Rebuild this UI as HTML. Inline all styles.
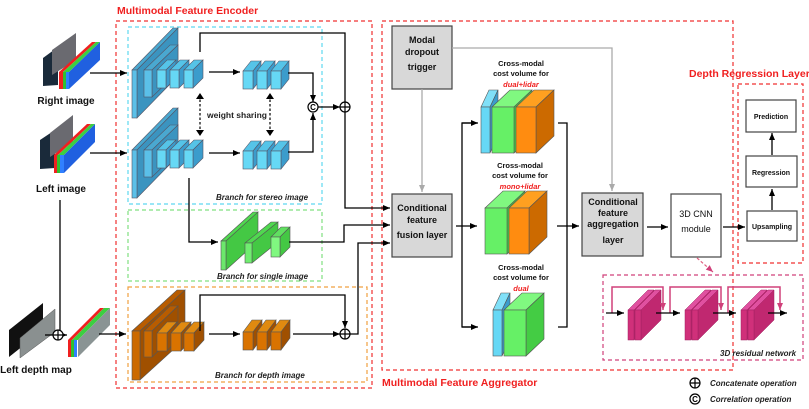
<!DOCTYPE html>
<html><head><meta charset="utf-8"><style>
html,body{margin:0;padding:0;background:#fff}
svg{display:block}
text{font-family:"Liberation Sans",Arial,sans-serif}
</style></head><body>
<svg width="809" height="409" viewBox="0 0 809 409" xmlns="http://www.w3.org/2000/svg" xmlns:xlink="http://www.w3.org/1999/xlink">
<defs>
<marker id="a" markerWidth="8" markerHeight="8" refX="7" refY="4" orient="auto" markerUnits="userSpaceOnUse"><path d="M0,1 L7,4 L0,7 z" fill="#000"/></marker>
<marker id="g" markerWidth="8" markerHeight="8" refX="7" refY="4" orient="auto" markerUnits="userSpaceOnUse"><path d="M0,1 L7,4 L0,7 z" fill="#aaa"/></marker>
<marker id="p" markerWidth="8" markerHeight="8" refX="7" refY="4" orient="auto" markerUnits="userSpaceOnUse"><path d="M0,1 L7,4 L0,7 z" fill="#d0407a"/></marker>
<g id="bA" stroke="#556" stroke-width="0.6"><polygon points="0,0 41,-42 46,-42 5,0" fill="#4aa8d0"/><polygon points="5,0 46,-42 46,6 5,48" fill="#3b94c0"/><rect width="5" height="48" fill="#5bc0e8"/></g>
<g id="bB" stroke="#556" stroke-width="0.6"><polygon points="0,0 26,-25 34,-25 8,0" fill="#4aa8d0"/><polygon points="8,0 34,-25 34,2 8,27" fill="#3b94c0"/><rect width="8" height="27" fill="#5bc0e8"/></g>
<g id="bC" stroke="#556" stroke-width="0.6"><polygon points="0,0 10,-10 19,-10 9,0" fill="#55c4e8"/><polygon points="9,0 19,-10 19,8 9,18" fill="#3b9ccc"/><rect width="9" height="18" fill="#66d8f5"/></g>
<g id="bC2" stroke="#556" stroke-width="0.6"><polygon points="0,0 8,-10 18,-10 10,0" fill="#55c4e8"/><polygon points="10,0 18,-10 18,8 10,18" fill="#3b9ccc"/><rect width="10" height="18" fill="#66d8f5"/></g>
<g id="oA" stroke="#555" stroke-width="0.6"><polygon points="0,0 45,-41 53,-41 8,0" fill="#b85c00"/><polygon points="8,0 53,-41 53,8 8,49" fill="#a05000"/><rect width="8" height="49" fill="#cc6a00"/></g>
<g id="oB" stroke="#555" stroke-width="0.6"><polygon points="0,0 26,-25 34,-25 8,0" fill="#b85c00"/><polygon points="8,0 34,-25 34,1 8,26" fill="#a05000"/><rect width="8" height="26" fill="#cc6a00"/></g>
<g id="oC" stroke="#555" stroke-width="0.6"><polygon points="0,0 10,-11 20,-11 10,0" fill="#e08a10"/><polygon points="10,0 20,-11 20,7 10,18" fill="#a05000"/><rect width="10" height="18" fill="#d97300"/></g>
<g id="oC2" stroke="#555" stroke-width="0.6"><polygon points="0,0 9,-12 19,-12 10,0" fill="#e08a10"/><polygon points="10,0 19,-12 19,6 10,18" fill="#a05000"/><rect width="10" height="18" fill="#d97300"/></g>
<g id="gA" stroke="#555" stroke-width="0.6"><polygon points="0,0 32,-29 37,-29 5,0" fill="#50d850"/><polygon points="5,0 37,-29 37,0 5,29" fill="#44c844"/><rect width="5" height="29" fill="#6ce86c"/></g>
<g id="gB" stroke="#555" stroke-width="0.6"><polygon points="0,0 26,-21 33,-21 7,0" fill="#50d850"/><polygon points="7,0 33,-21 33,-1 7,20" fill="#44c844"/><rect width="7" height="20" fill="#70ee70"/></g>
<g id="gC" stroke="#555" stroke-width="0.6"><polygon points="0,0 10,-10 19,-10 9,0" fill="#60e060"/><polygon points="9,0 19,-10 19,10 9,20" fill="#44c844"/><rect width="9" height="20" fill="#80f880"/></g>
<g id="cO" stroke="#555" stroke-width="0.6"><polygon points="0,0 18,-17 38,-17 20,0" fill="#ffa020"/><polygon points="20,0 38,-17 38,29 20,46" fill="#cc6a00"/><rect width="20" height="46" fill="#ff8c10"/></g>
<g id="cG" stroke="#555" stroke-width="0.6"><polygon points="0,0 18,-17 40,-17 22,0" fill="#80f880"/><polygon points="22,0 40,-17 40,29 22,46" fill="#44cc44"/><rect width="22" height="46" fill="#66f066"/></g>
<g id="cB" stroke="#555" stroke-width="0.6"><polygon points="0,0 8,-17 17,-17 9,0" fill="#80e0f8"/><polygon points="9,0 17,-17 17,29 9,46" fill="#3b9ccc"/><rect width="9" height="46" fill="#66d8f5"/></g>
<g id="mA" stroke="#a02060" stroke-width="0.5"><polygon points="0,0 20,-20 26,-20 6,0" fill="#e050a0"/><polygon points="6,0 26,-20 26,10 6,30" fill="#c02870"/><rect width="6" height="30" fill="#d0307a"/></g>
</defs>
<g fill="none" stroke-dasharray="4,3" stroke-width="1.2">
<rect x="116" y="21" width="256" height="367" stroke="#f03030"/>
<rect x="128" y="27" width="194" height="177" stroke="#5dd8f0"/>
<rect x="128" y="210" width="194" height="71" stroke="#80e080"/>
<rect x="128" y="287" width="239" height="95" stroke="#f0a040"/>
<rect x="382" y="21" width="351" height="349" stroke="#f03030"/>
<rect x="738" y="84" width="65" height="179" stroke="#f03030"/>
<rect x="603" y="275" width="200" height="85" stroke="#d0407a"/>
</g>
<g font-weight="bold" fill="#f02020" font-size="10.5">
<text x="117" y="14">Multimodal Feature Encoder</text>
<text x="382" y="386">Multimodal Feature Aggregator</text>
<text x="689" y="77">Depth Regression Layer</text>
</g>
<g>
<polygon points="43,58 58,47 58,85 43,86" fill="#1a2a3a"/>
<polygon points="52,50 76,33 76,60 52,75" fill="#6a6a70"/>
<polygon points="59,72 92,42 96,42 63,72" fill="#f02020"/>
<rect x="59" y="72" width="4" height="17" fill="#f02020"/>
<rect x="63" y="72" width="3" height="17" fill="#30c030"/>
<rect x="66" y="72" width="3" height="17" fill="#3080ff"/>
<polygon points="63,72 96,42 100,42 69,72" fill="#3cd040"/>
<polygon points="69,72 100,42 100,60 69,89" fill="#2060e0"/>
<polygon points="40,140 55,130 55,168 40,169" fill="#1a2a3a"/>
<polygon points="50,133 73,115 73,142 50,157" fill="#6a6a70"/>
<polygon points="54,155 87,124 91,124 58,155" fill="#f02020"/>
<rect x="54" y="155" width="3" height="18" fill="#f02020"/>
<rect x="57" y="155" width="3" height="18" fill="#30c030"/>
<rect x="60" y="155" width="4" height="18" fill="#3080ff"/>
<polygon points="58,155 91,124 95,124 64,155" fill="#3cd040"/>
<polygon points="64,155 95,124 95,142 64,173" fill="#2060e0"/>
<polygon points="9,330 43,303 43,330 9,357" fill="#111"/>
<polygon points="20,338 55,309 55,332 20,358" fill="#8a9090" stroke="#555" stroke-width="0.5"/>
<polygon points="68,340 100,308 104,308 72,340" fill="#f02020"/>
<rect x="68" y="340" width="3" height="17" fill="#f02020"/>
<rect x="71" y="340" width="3" height="17" fill="#30c030"/>
<rect x="74" y="340" width="3" height="17" fill="#3080ff"/>
<polygon points="72,340 104,308 110,308 78,340" fill="#3cd040"/>
<polygon points="78,340 110,308 110,325 78,357" fill="#8a9494"/>
</g>
<g font-weight="bold" font-size="10" text-anchor="middle" fill="#111">
<text x="66" y="104">Right image</text>
<text x="61" y="192">Left image</text>
<text x="36" y="373">Left depth map</text>
</g>
<use xlink:href="#bA" x="132" y="70"/><use xlink:href="#bB" x="144" y="70"/>
<use xlink:href="#bC" x="157" y="70"/><use xlink:href="#bC" x="170" y="70"/><use xlink:href="#bC" x="184" y="70"/>
<use xlink:href="#bC2" x="243" y="71"/><use xlink:href="#bC2" x="257" y="71"/><use xlink:href="#bC2" x="271" y="71"/>
<use xlink:href="#bA" x="132" y="150"/><use xlink:href="#bB" x="144" y="150"/>
<use xlink:href="#bC" x="157" y="150"/><use xlink:href="#bC" x="170" y="150"/><use xlink:href="#bC" x="184" y="150"/>
<use xlink:href="#bC2" x="243" y="151"/><use xlink:href="#bC2" x="257" y="151"/><use xlink:href="#bC2" x="271" y="151"/>
<use xlink:href="#gA" x="221" y="241"/><use xlink:href="#gB" x="245" y="243"/><use xlink:href="#gC" x="271" y="237"/>
<use xlink:href="#oA" x="132" y="331"/><use xlink:href="#oB" x="144" y="331"/>
<use xlink:href="#oC" x="157" y="333"/><use xlink:href="#oC" x="171" y="333"/><use xlink:href="#oC" x="184" y="333"/>
<use xlink:href="#oC2" x="243" y="332"/><use xlink:href="#oC2" x="257" y="332"/><use xlink:href="#oC2" x="271" y="332"/>
<use xlink:href="#cB" x="481" y="107"/><use xlink:href="#cG" x="492" y="107"/><use xlink:href="#cO" x="516" y="107"/>
<use xlink:href="#cG" x="485" y="208"/><use xlink:href="#cO" x="509" y="208"/>
<use xlink:href="#cB" x="493" y="310"/><use xlink:href="#cG" x="504" y="310"/>
<use xlink:href="#mA" x="628" y="310"/><use xlink:href="#mA" x="635" y="310"/>
<use xlink:href="#mA" x="685" y="310"/><use xlink:href="#mA" x="692" y="310"/>
<use xlink:href="#mA" x="741" y="310"/><use xlink:href="#mA" x="748" y="310"/>
<g stroke="#000" stroke-width="1.3" fill="none">
<line x1="90" y1="73" x2="127" y2="73" marker-end="url(#a)"/>
<line x1="90" y1="153" x2="127" y2="153" marker-end="url(#a)"/>
<line x1="60" y1="200" x2="60" y2="331"/>
<line x1="45" y1="335" x2="54" y2="335"/>
<line x1="63" y1="335" x2="67" y2="335" marker-end="url(#a)"/>
<line x1="99" y1="334" x2="126" y2="334" marker-end="url(#a)"/>
<polyline points="200,52 200,33 345,33 345,103"/>
<polyline points="345,111 345,208 390,208" marker-end="url(#a)"/>
<line x1="209" y1="72" x2="240" y2="72" marker-end="url(#a)"/>
<line x1="209" y1="153" x2="240" y2="153" marker-end="url(#a)"/>
<polyline points="288,73 313,73 313,102" marker-end="url(#a)"/>
<polyline points="288,152 313,152 313,113" marker-end="url(#a)"/>
<line x1="318" y1="107" x2="340" y2="107" marker-end="url(#a)"/>
<polyline points="189,178 189,242 218,242" marker-end="url(#a)"/>
<polyline points="289,242 344,242 344,225 390,225" marker-end="url(#a)"/>
<polyline points="200,331 200,295 345,295 345,328" marker-end="url(#a)"/>
<line x1="209" y1="334" x2="240" y2="334" marker-end="url(#a)"/>
<line x1="293" y1="334" x2="340" y2="334" marker-end="url(#a)"/>
<polyline points="350,334 358,334 358,243 390,243" marker-end="url(#a)"/>
<line x1="456" y1="226" x2="477" y2="226" marker-end="url(#a)"/>
<polyline points="477,123 462,123 462,327 477,327"/>
<line x1="462" y1="123" x2="478" y2="123" marker-end="url(#a)"/>
<line x1="462" y1="327" x2="478" y2="327" marker-end="url(#a)"/>
<polyline points="558,123 567,123 567,327 558,327"/>
<line x1="557" y1="226" x2="579" y2="226" marker-end="url(#a)"/>
<line x1="647" y1="227" x2="668" y2="227" marker-end="url(#a)"/>
<line x1="723" y1="227" x2="745" y2="227" marker-end="url(#a)"/>
<line x1="772" y1="210" x2="772" y2="189" marker-end="url(#a)"/>
<line x1="772" y1="155" x2="772" y2="133" marker-end="url(#a)"/>
</g>
<g stroke="#000" stroke-width="1.2" stroke-dasharray="2.5,2" fill="none">
<line x1="200" y1="95" x2="200" y2="134"/><line x1="270" y1="95" x2="270" y2="134"/>
</g>
<g fill="#000"><path d="M196,99 L200,93 L204,99z M196,130 L200,136 L204,130z M266,99 L270,93 L274,99z M266,130 L270,136 L274,130z"/></g>
<text x="207" y="118" font-size="8.5" font-weight="bold" fill="#222">weight sharing</text>
<g stroke="#000" stroke-width="1.2" fill="#fff">
<circle cx="345" cy="107" r="5"/><path d="M340,107 H350 M345,102 V112"/>
<circle cx="345" cy="334" r="5"/><path d="M340,334 H350 M345,329 V339"/>
<circle cx="58" cy="335" r="5"/><path d="M53,335 H63 M58,330 V340"/>
<circle cx="313" cy="107" r="5"/>
<circle cx="695" cy="383" r="5"/><path d="M690,383 H700 M695,378 V388"/>
<circle cx="695" cy="399" r="5"/>
</g>
<text x="313" y="110" font-size="8" font-weight="bold" text-anchor="middle">C</text>
<text x="695" y="402" font-size="8" font-weight="bold" text-anchor="middle">C</text>
<g font-size="8" font-style="italic" font-weight="bold" fill="#222">
<text x="216" y="200">Branch for stereo image</text>
<text x="217" y="279">Branch for single image</text>
<text x="215" y="378">Branch for depth image</text>
<text x="720" y="356">3D residual network</text>
<text x="710" y="386">Concatenate operation</text>
<text x="710" y="402">Correlation operation</text>
</g>
<g stroke="#444" stroke-width="1.2">
<rect x="392" y="26" width="60" height="63" fill="#d8d8d8"/>
<rect x="392" y="194" width="60" height="63" fill="#d8d8d8"/>
<rect x="582" y="193" width="61" height="63" fill="#d8d8d8"/>
<rect x="671" y="194" width="50" height="63" fill="#fff"/>
<rect x="746" y="100" width="50" height="32" fill="#fff"/>
<rect x="746" y="156" width="51" height="31" fill="#fff"/>
<rect x="747" y="211" width="50" height="30" fill="#fff"/>
</g>
<g stroke="#aaa" stroke-width="1.3" fill="none">
<line x1="422" y1="89" x2="422" y2="192" marker-end="url(#g)"/>
<polyline points="452,48 612,48 612,191" marker-end="url(#g)"/>
</g>
<g font-size="9" font-weight="bold" text-anchor="middle" fill="#111">
<text x="422" y="43">Modal</text><text x="422" y="55">dropout</text><text x="422" y="70">trigger</text>
<text x="422" y="211">Conditional</text><text x="422" y="223">feature</text><text x="422" y="238">fusion layer</text>
<text x="613" y="205">Conditional</text><text x="613" y="216">feature</text><text x="613" y="227">aggregation</text><text x="613" y="243">layer</text>
<text x="696" y="217" font-weight="normal">3D CNN</text><text x="696" y="232" font-weight="normal">module</text>
</g>
<g font-size="7" font-weight="bold" text-anchor="middle" fill="#111">
<text x="771" y="119">Prediction</text><text x="771" y="175">Regression</text><text x="772" y="229">Upsampling</text>
</g>
<g font-size="7.5" font-weight="bold" text-anchor="middle" fill="#111">
<text x="521" y="66">Cross-modal</text><text x="521" y="76">cost volume for</text>
<text x="520" y="168">Cross-modal</text><text x="520" y="178">cost volume for</text>
<text x="521" y="270">Cross-modal</text><text x="521" y="280">cost volume for</text>
</g>
<g font-size="7.5" font-weight="bold" font-style="italic" text-anchor="middle" fill="#f02020">
<text x="521" y="87">dual+lidar</text><text x="520" y="189">mono+lidar</text><text x="521" y="291">dual</text>
</g>
<line x1="697" y1="258" x2="713" y2="272" stroke="#e06080" stroke-width="1.2" stroke-dasharray="3,2" marker-end="url(#p)"/>
<g stroke="#d0407a" stroke-width="1.5" fill="none">
<polyline points="612,313 612,287 663,287 663,310" marker-end="url(#p)"/>
<polyline points="670,313 670,287 721,287 721,310" marker-end="url(#p)"/>
<polyline points="728,313 728,287 780,287 780,310" marker-end="url(#p)"/>
</g>
<g stroke="#000" stroke-width="1.3">
<line x1="606" y1="313" x2="624" y2="313" marker-end="url(#a)"/>
<line x1="656" y1="313" x2="680" y2="313" marker-end="url(#a)"/>
<line x1="713" y1="313" x2="736" y2="313" marker-end="url(#a)"/>
<line x1="768" y1="313" x2="787" y2="313" marker-end="url(#a)"/>
</g>
</svg>
</body></html>
